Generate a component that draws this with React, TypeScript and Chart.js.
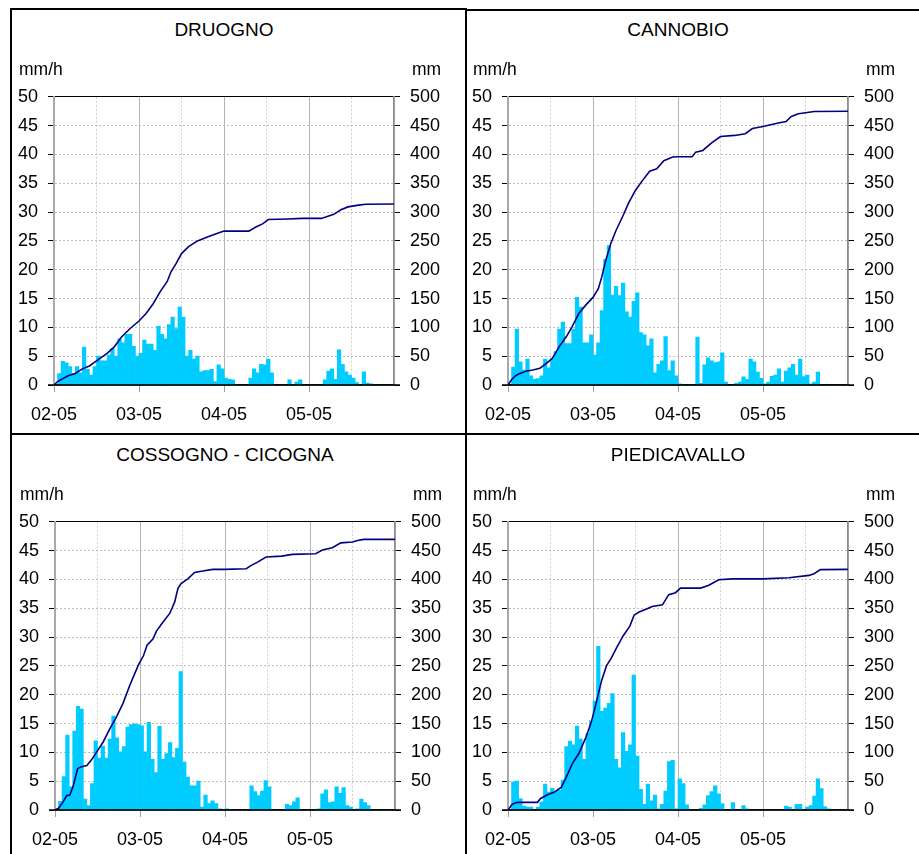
import React, { useEffect, useRef } from 'react';
import { Chart, registerables } from 'chart.js';

Chart.register(...registerables);

// ---- data ----
const dayLabels = ['02-05', '03-05', '04-05', '05-05'];
const hourTicks = [0, 12, 24, 36, 48, 60, 72, 84, 96];

const druognoBars = [
  0, 2.0, 4.1, 3.85, 3.2, 2.0, 3.2, 2.1, 6.6, 2.7,
  1.7, 3.2, 5.0, 4.2, 4.2, 5.2, 6.3, 5.0, 8.0, 7.3,
  8.8, 8.8, 6.7, 5.0, 5.5, 7.8, 7.1, 7.1, 6.0, 10.2,
  8.8, 8.0, 10.5, 11.8, 9.8, 13.5, 11.8, 5.0, 6.0, 4.5,
  5.0, 2.3, 2.5, 2.5, 2.7, 0.6, 3.5, 2.8, 1.2, 1.0,
  0.9, 0, 0, 0, 0, 1.2, 2.8, 2.1, 3.6, 3.5,
  4.5, 2.1, 0, 0, 0, 0, 0.9, 0, 0.5, 0.9,
  0, 0, 0, 0, 0, 0, 0.9, 2.4, 2.8, 1.0,
  6.1, 3.6, 2.3, 1.7, 1.2, 0.4, 0, 2.3, 0.35, 0.2,
  0, 0, 0, 0, 0, 0,
];
const druognoLineH = [0, 1, 2.5, 4, 6, 8, 10, 12, 15, 17, 19, 21.5, 24, 26, 28, 30, 32, 33, 34.5, 36, 38, 40.5, 43.5, 46, 48, 55, 57, 59, 60.5, 66, 70, 75.5, 79, 81, 83, 86, 88, 96];
const druognoLineMm = [0, 6, 11, 16, 20, 28, 33, 42, 55, 66, 83, 98, 111, 124, 141, 162, 180, 196, 211, 228, 240, 250, 257, 263, 267, 267, 274, 280, 287, 288, 289, 289, 296, 304, 309, 312, 313.5, 314];

const cannobioBars = [
  0, 3.1, 9.7, 4.0, 2.6, 4.5, 1.6, 1.0, 1.1, 1.6,
  4.5, 3.0, 4.5, 5.8, 9.7, 10.9, 7.2, 7.2, 9.7, 15.2,
  13.5, 7.3, 7.3, 8.7, 5.2, 7.3, 12.9, 21.8, 24.2, 15.6,
  17.1, 15.5, 17.7, 12.7, 11.8, 14.5, 16.0, 9.1, 8.7, 6.8,
  8.0, 2.1, 3.6, 4.2, 8.4, 2.5, 4.2, 1.6, 0.2, 0,
  0, 0, 0, 8.3, 0.3, 3.5, 4.7, 4.2, 3.9, 4.0,
  5.6, 0.5, 0, 0, 0.3, 0.5, 1.4, 1.0, 4.5, 4.0,
  2.25, 1.15, 0.2, 0.5, 1.5, 1.7, 2.8, 0.5, 2.4, 3.0,
  3.6, 1.7, 4.5, 1.45, 1.7, 0.2, 0.5, 2.25, 0, 0,
  0, 0, 0, 0, 0, 0,
];
const cannobioLineH = [0, 1, 2, 3, 5, 7, 9, 10.5, 12.5, 14.5, 16.5, 18, 20, 22, 24, 25.5, 26.5, 27.5, 29, 30.5, 32.5, 34, 36, 38, 40, 42, 44, 46.5, 48, 52, 53, 55, 57.5, 60, 64, 67, 69, 72, 76, 78.5, 80, 82, 86.5, 96];
const cannobioLineMm = [0, 9, 15.5, 19, 24, 26, 29, 36, 46, 67, 84, 100, 124, 139, 152, 167, 188, 214, 245, 268, 294, 315, 338, 355, 371, 375, 389, 395.5, 396, 396, 404, 407, 420, 431, 433, 436, 445, 448.5, 454, 457, 466, 470.5, 474.5, 475];

const cossognoBars = [
  0, 1.5, 5.8, 13.0, 4.0, 13.7, 18.0, 17.5, 1.9, 0.75,
  4.6, 12.0, 9.0, 11.1, 9.0, 12.3, 16.3, 12.5, 10.1, 11.0,
  14.4, 14.8, 14.95, 14.8, 14.6, 10.1, 15.2, 8.8, 6.5, 14.5,
  8.8, 9.8, 11.7, 9.1, 10.7, 24.0, 8.3, 5.7, 4.2, 4.2,
  5.0, 0.5, 2.6, 1.1, 1.6, 1.1, 0.2, 0, 0.2, 0,
  0, 0, 0, 0, 0, 4.2, 3.2, 2.5, 3.3, 5.1,
  4.0, 0, 0, 0, 0, 1.0, 0.75, 1.4, 2.1, 0,
  0, 0, 0, 0, 0.2, 2.8, 3.5, 1.3, 1.4, 4.0,
  2.9, 3.9, 0.75, 0.5, 0, 0.2, 1.9, 1.3, 0.75, 0,
  0, 0, 0, 0, 0, 0,
];
const cossognoLineH = [0, 1, 2.3, 3.3, 4.2, 5.2, 6.4, 7.5, 9, 10.3, 11.7, 13.6, 15.5, 17.4, 19.2, 21.1, 23.5, 25, 26, 27.7, 28.6, 30.5, 32.4, 33.8, 34.7, 35.6, 37.5, 39.4, 41.7, 44.6, 48, 54, 55.3, 57.2, 59.6, 64, 67, 73.6, 75.5, 78.3, 80.7, 84, 85.4, 87.2, 96];
const cossognoLineMm = [0, 3, 14, 25, 26, 43, 72, 75, 77, 87, 100, 118, 141, 162, 185, 216, 251, 268, 286, 297, 310, 326, 341, 361, 384, 393, 401, 412, 414.5, 417.5, 417.5, 418.5, 424, 430, 439, 440.5, 443.5, 444.5, 451, 455, 463.5, 465, 467.5, 469.5, 469.5];

const piediBars = [
  0, 4.85, 5.0, 2.0, 0.7, 0.5, 0.5, 0, 0.5, 1.4,
  4.5, 3.1, 3.75, 3.2, 3.4, 5.2, 11.0, 11.95, 11.3, 14.55,
  12.3, 8.8, 13.3, 15.5, 18.9, 28.4, 17.1, 17.7, 18.5, 20.2,
  8.8, 7.3, 13.45, 10.2, 11.3, 23.4, 9.35, 3.6, 1.0, 4.5,
  1.6, 2.6, 0.2, 1.0, 3.3, 8.4, 8.6, 0.2, 5.4, 4.6,
  0.9, 0, 0, 0, 0.3, 0.9, 2.5, 3.2, 4.2, 2.8,
  1.1, 0, 0, 1.3, 0, 0, 0.75, 0.2, 0, 0,
  0, 0, 0, 0, 0, 0, 0, 0, 0.7, 0.5,
  0, 1.0, 1.0, 0, 0.5, 0.75, 2.4, 5.4, 3.7, 0.6,
  0.2, 0, 0, 0, 0, 0,
];
const piediLineH = [0, 1.2, 2.6, 8.3, 9.2, 11, 13, 15, 16.3, 18.2, 20, 22, 23.5, 25, 26.4, 27.8, 29.2, 30.6, 32.5, 34.4, 35.6, 37, 39.3, 40.7, 43.6, 45.4, 47.3, 48.7, 54.4, 56.7, 59.5, 63.3, 72, 79.3, 85, 86.4, 88.2, 96];
const piediLineMm = [0, 10, 13.3, 13.3, 20, 26, 30.6, 39, 55, 81, 98, 126, 152, 188, 224, 250, 264, 281, 302, 319, 338, 343.5, 349, 353, 356, 373.6, 377, 385, 385, 390, 399.5, 401, 401, 403, 407, 410, 417, 417.4];

// ---- layout ----
const FONT = 'Arial, "Liberation Sans", Helvetica, sans-serif';
const PLOT_W = 340;
const PLOT_H = 289;
const PAD_L = 54;
const PAD_R = 70;
const PAD_T = 20;
const PAD_B = 50;

type PanelProps = {
  title: string;
  plotLeft: number;
  plotTop: number;
  bars: number[];
  lineH: number[];
  lineMm: number[];
};

function Panel({ title, plotLeft, plotTop, bars, lineH, lineMm }: PanelProps) {
  const ref = useRef<HTMLCanvasElement>(null);

  useEffect(() => {
    const canvas = ref.current;
    if (!canvas) return;
    const axisLine = {
      id: 'axisLine',
      afterDatasetsDraw(chart: any) {
        const { ctx, chartArea: a } = chart;
        ctx.save();
        ctx.strokeStyle = '#000';
        ctx.lineWidth = 1.5;
        ctx.beginPath();
        ctx.moveTo(a.left - 6, a.bottom);
        ctx.lineTo(a.right + 6, a.bottom);
        ctx.stroke();
        ctx.restore();
      },
    };
    const tickFont = { family: FONT, size: 18 };
    const chart = new Chart(canvas, {
      type: 'bar',
      data: {
        datasets: [
          {
            type: 'line',
            data: lineH.map((h, k) => ({ x: h, y: lineMm[k] })),
            yAxisID: 'y1',
            borderColor: '#000080',
            borderWidth: 1.6,
            pointRadius: 0,
            tension: 0,
            order: 0,
          } as any,
          {
            type: 'bar',
            data: bars.map((v, i) => ({ x: i + 0.5, y: v })),
            yAxisID: 'y',
            backgroundColor: '#00ccff',
            borderWidth: 0,
            barPercentage: 1,
            categoryPercentage: 1,
            order: 1,
          } as any,
        ],
      },
      options: {
        responsive: false,
        animation: false,
        devicePixelRatio: 1,
        layout: { padding: { top: PAD_T, left: 0, right: 0, bottom: 0 } },
        plugins: { legend: { display: false }, tooltip: { enabled: false }, title: { display: false } },
        scales: {
          x: {
            type: 'linear',
            min: 0,
            max: 96,
            offset: false,
            afterBuildTicks: (s: any) => {
              s.ticks = hourTicks.map((v) => ({ value: v }));
            },
            afterFit: (s: any) => {
              s.height = PAD_B;
            },
            grid: {
              offset: false,
              lineWidth: 1,
              color: (c: any) => (c.tick && c.tick.value % 24 === 0 ? '#b4b4b4' : '#d2d2d2'),
              tickLength: 7,
              tickColor: (c: any) =>
                c.tick && c.tick.value % 24 === 0 && c.tick.value < 96 ? '#a0a0a0' : 'rgba(0,0,0,0)',
            },
            border: {
              display: true,
              color: '#000',
              width: 1.5,
              dash: (c: any) => (c.tick && c.tick.value % 24 !== 0 ? [2, 2] : []),
            },
            ticks: {
              autoSkip: false,
              maxRotation: 0,
              minRotation: 0,
              padding: 12,
              color: '#000',
              font: tickFont,
              callback: (v: any) => {
                const d = Number(v) / 24;
                return Number.isInteger(d) && d < dayLabels.length ? dayLabels[d] : '';
              },
            },
          } as any,
          y: {
            type: 'linear',
            position: 'left',
            min: 0,
            max: 50,
            afterFit: (s: any) => {
              s.width = PAD_L;
            },
            ticks: { stepSize: 5, padding: 10, color: '#000', font: tickFont },
            grid: {
              lineWidth: 1,
              color: (c: any) =>
                c.tick && c.tick.value === 50 ? '#000' : c.tick && c.tick.value === 0 ? 'rgba(0,0,0,0)' : '#bcbcbc',
              tickLength: 6,
              tickColor: '#000',
            },
            border: {
              display: true,
              color: '#a8a8a8',
              width: 2,
              dash: (c: any) => (c.tick && c.tick.value !== 50 ? [2, 2] : []),
            },
          } as any,
          y1: {
            type: 'linear',
            position: 'right',
            min: 0,
            max: 500,
            afterFit: (s: any) => {
              s.width = PAD_R;
            },
            ticks: { stepSize: 50, padding: 10, color: '#000', font: tickFont },
            grid: { drawOnChartArea: false, tickLength: 6, tickColor: '#000' },
            border: { display: true, color: '#8c8c8c', width: 1.5 },
          } as any,
        },
      },
      plugins: [axisLine],
    } as any);
    return () => chart.destroy();
  }, [bars, lineH, lineMm]);

  const textBase: React.CSSProperties = {
    position: 'absolute',
    fontFamily: FONT,
    color: '#000',
    whiteSpace: 'nowrap',
  };

  return (
    <>
      <canvas
        ref={ref}
        width={PAD_L + PLOT_W + PAD_R}
        height={PAD_T + PLOT_H + PAD_B}
        style={{
          position: 'absolute',
          left: plotLeft - PAD_L,
          top: plotTop - PAD_T,
          width: PAD_L + PLOT_W + PAD_R,
          height: PAD_T + PLOT_H + PAD_B,
        }}
      />
      <div
        style={{
          ...textBase,
          left: plotLeft,
          width: PLOT_W,
          top: plotTop - 66 - 11,
          height: 22,
          lineHeight: '22px',
          fontSize: 19,
          textAlign: 'center',
        }}
      >
        {title}
      </div>
      <div style={{ ...textBase, left: plotLeft - 35, top: plotTop - 27 - 10, lineHeight: '20px', fontSize: 17.5 }}>
        mm/h
      </div>
      <div
        style={{ ...textBase, left: plotLeft + PLOT_W + 18, top: plotTop - 27 - 10, lineHeight: '20px', fontSize: 17.5 }}
      >
        mm
      </div>
    </>
  );
}

const lineStyle = (left: number, top: number, width: number, height: number): React.CSSProperties => ({
  position: 'absolute',
  left,
  top,
  width,
  height,
  background: '#000',
});

export default function App() {
  return (
    <div
      style={{
        position: 'absolute',
        left: 0,
        top: 0,
        width: 919,
        height: 854,
        overflow: 'hidden',
        background: '#fff',
      }}
    >
      <div style={lineStyle(10, 8, 456, 2)} />
      <div style={lineStyle(466, 9, 453, 2)} />
      <div style={lineStyle(10, 8, 2, 846)} />
      <div style={lineStyle(465, 8, 2, 846)} />
      <div style={lineStyle(10, 433, 909, 2)} />
      <Panel title="DRUOGNO" plotLeft={54} plotTop={96} bars={druognoBars} lineH={druognoLineH} lineMm={druognoLineMm} />
      <Panel title="CANNOBIO" plotLeft={508} plotTop={96} bars={cannobioBars} lineH={cannobioLineH} lineMm={cannobioLineMm} />
      <Panel
        title="COSSOGNO - CICOGNA"
        plotLeft={55}
        plotTop={521}
        bars={cossognoBars}
        lineH={cossognoLineH}
        lineMm={cossognoLineMm}
      />
      <Panel title="PIEDICAVALLO" plotLeft={508} plotTop={521} bars={piediBars} lineH={piediLineH} lineMm={piediLineMm} />
    </div>
  );
}
